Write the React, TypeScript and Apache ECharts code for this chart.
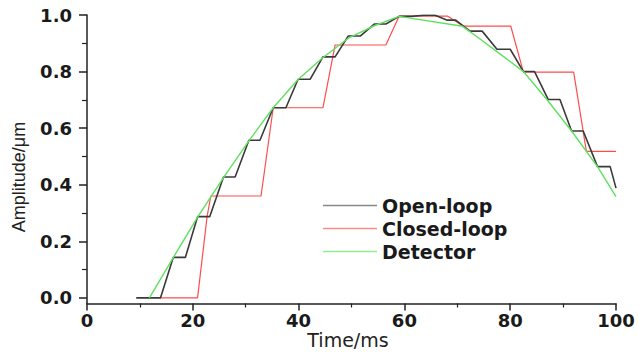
import React, { useEffect, useRef } from "react";
import * as echarts from "echarts";

const seriesNames = ["Open-loop", "Closed-loop", "Detector"];

const openLoopTime = [9.3, 13.9, 16.3, 18.6, 20.9, 23.2, 25.8, 28.0, 30.6, 32.7, 35.2, 37.6, 39.9, 42.2, 44.6, 46.9, 49.4, 51.7, 54.3, 56.5, 59.0, 61.3, 63.6, 65.8, 68.0, 69.7, 72.4, 74.7, 77.5, 80.0, 82.5, 84.6, 87.2, 89.4, 91.6, 93.8, 96.5, 98.9, 100.0];
const openLoopAmp = [0, 0, 0.143, 0.143, 0.287, 0.287, 0.427, 0.427, 0.557, 0.557, 0.672, 0.672, 0.773, 0.773, 0.852, 0.852, 0.926, 0.926, 0.968, 0.968, 0.995, 0.995, 0.999, 0.999, 0.982, 0.982, 0.943, 0.943, 0.879, 0.879, 0.8, 0.8, 0.701, 0.701, 0.59, 0.59, 0.464, 0.464, 0.388];

const closedLoopTime = [13.9, 20.9, 22.7, 23.4, 32.9, 35.2, 44.6, 46.9, 56.5, 59.0, 68.2, 71.1, 80.1, 82.5, 92.0, 94.4, 100.0];
const closedLoopAmp = [0, 0, 0.287, 0.36, 0.36, 0.672, 0.672, 0.894, 0.894, 0.996, 0.996, 0.961, 0.961, 0.798, 0.798, 0.518, 0.518];

const detectorTime = [11.8, 16.3, 20.9, 25.8, 30.6, 35.2, 39.9, 44.5, 49.4, 54.3, 59.0, 71.0, 74.3, 77.8, 82.5, 87.2, 91.6, 96.5, 100.0];
const detectorAmp = [0, 0.142, 0.285, 0.425, 0.555, 0.672, 0.772, 0.848, 0.918, 0.962, 0.995, 0.96, 0.915, 0.866, 0.8, 0.695, 0.59, 0.464, 0.358];

const yTickValues = [0, 0.2, 0.4, 0.6, 0.8, 1.0];
const yMinorTickValues = [0.1, 0.3, 0.5, 0.7, 0.9];

const colors = ["#3a3a3a", "#ff4c4c", "#5fe05f"];

function pairs(t: number[], v: number[]) {
  return t.map((x, i) => [x, v[i]]);
}

export default function App() {
  const ref = useRef<HTMLDivElement>(null);
  useEffect(() => {
    if (!ref.current) return;
    const chart = echarts.init(ref.current, undefined, { renderer: "svg" });
    const tickFont = {
      fontFamily: "DejaVu Sans",
      fontWeight: "bold" as const,
      fontSize: 18,
      color: "#1a1a1a",
    };
    const axisLine = { show: true, onZero: false, lineStyle: { color: "#222", width: 1.5 } };
    chart.setOption({
      animation: false,
      backgroundColor: "#ffffff",
      grid: { left: 87, right: 22, top: 15, bottom: 48.5, containLabel: false, outerBoundsMode: "none" },
      legend: {
        orient: "vertical",
        left: 318,
        top: 191,
        itemWidth: 54,
        itemHeight: 1.5,
        itemGap: 4,
        icon: "rect",
        textStyle: {
          fontFamily: "DejaVu Sans",
          fontWeight: "bold",
          fontSize: 19,
          lineHeight: 18,
          color: "#1a1a1a",
        },
        data: seriesNames,
      },
      xAxis: {
        type: "value",
        min: 0,
        max: 100,
        interval: 20,
        name: "Time/ms",
        nameLocation: "middle",
        nameGap: 27,
        nameMoveOverlap: false,
        nameTextStyle: { fontFamily: "DejaVu Sans", fontSize: 19, lineHeight: 19, color: "#222", padding: [0, 7, 0, 0] },
        axisLine,
        axisTick: { show: true, length: 7, lineStyle: { color: "#222", width: 1.5 } },
        minorTick: { show: true, splitNumber: 2, length: 4, lineStyle: { color: "#222", width: 1.2 } },
        axisLabel: { ...tickFont, margin: 8 },
        splitLine: { show: false },
      },
      yAxis: [
        {
          type: "value",
          min: -0.02,
          max: 1.0,
          axisLine,
          axisTick: { show: true, length: 8, customValues: yTickValues, lineStyle: { color: "#222", width: 1.5 } },
          axisLabel: {
            ...tickFont,
            margin: 15,
            customValues: yTickValues,
            formatter: (v: number) => v.toFixed(1),
          },
          splitLine: { show: false },
        },
        {
          type: "value",
          min: -0.02,
          max: 1.0,
          position: "left",
          axisLine: { show: false, onZero: false },
          axisTick: { show: true, length: 5, customValues: yMinorTickValues, lineStyle: { color: "#222", width: 1.2 } },
          axisLabel: { show: false },
          splitLine: { show: false },
        },
      ],
      graphic: [
        {
          type: "text",
          x: 19,
          y: 177,
          rotation: Math.PI / 2,
          style: {
            text: "Amplitude/μm",
            font: "18px 'Liberation Sans'",
            fill: "#222",
            textAlign: "center",
            textVerticalAlign: "middle",
          },
        },
      ],
      series: [
        {
          name: seriesNames[0],
          type: "line",
          data: pairs(openLoopTime, openLoopAmp),
          showSymbol: false,
          lineStyle: { color: colors[0], width: 1.6 },
          itemStyle: { color: "#888888" },
          z: 3,
        },
        {
          name: seriesNames[1],
          type: "line",
          data: pairs(closedLoopTime, closedLoopAmp),
          showSymbol: false,
          lineStyle: { color: colors[1], width: 1.2 },
          itemStyle: { color: "#ff8a8a" },
          z: 2,
        },
        {
          name: seriesNames[2],
          type: "line",
          data: pairs(detectorTime, detectorAmp),
          showSymbol: false,
          lineStyle: { color: colors[2], width: 1.4 },
          itemStyle: { color: "#8ef08e" },
          z: 4,
        },
      ],
    });
    return () => chart.dispose();
  }, []);
  return (
    <div
      ref={ref}
      style={{ position: "fixed", left: 0, top: 0, width: 638, height: 352, background: "#fff" }}
    />
  );
}
